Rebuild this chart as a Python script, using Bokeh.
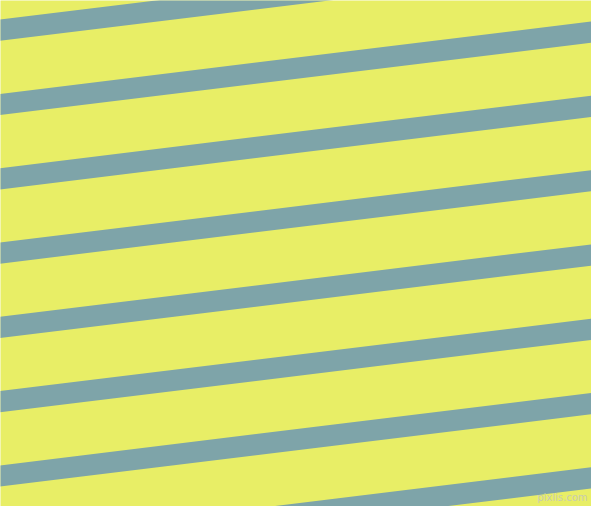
from bokeh.plotting import figure
from bokeh.models import Range1d
from bokeh.embed import file_html
from bokeh.resources import INLINE
from bokeh.core.properties import value

# Stripe data (image pixel coordinates of the reference, y measured downward)
stripe_top_at_left = [-46.3, 28.0, 102.3, 176.6, 250.9, 325.2, 399.5, 473.8, 548.1]
stripe_rise_across = 74.3      # vertical rise of each stripe across the full width
stripe_thickness = 21.2         # vertical thickness of each stripe
image_width = 607
watermark = "pixlis.com"

BG = "#e8ee66"
STRIPE = "#7ea4a9"

W, H = 591, 506
p = figure(width=W, height=H, output_backend="svg", toolbar_location=None,
           x_range=Range1d(8, 8 + W), y_range=Range1d(8 + H, 8),
           min_border=0, min_border_left=0, min_border_right=0,
           min_border_top=0, min_border_bottom=0)
p.background_fill_color = BG
p.border_fill_color = BG
p.outline_line_color = None
p.axis.visible = False
p.grid.visible = False

slope = stripe_rise_across / image_width
xs, ys = [], []
for c in stripe_top_at_left:
    x0, x1 = -10, image_width + 10
    t0 = c - slope * x0
    t1 = c - slope * x1
    xs.append([x0, x1, x1, x0])
    ys.append([t0, t1, t1 + stripe_thickness, t0 + stripe_thickness])

p.patches(xs, ys, fill_color=STRIPE, line_color=None)

p.text(x=[595], y=[510], text=[watermark], text_align="right",
       text_baseline="bottom", text_font=value("DejaVu Sans"),
       text_font_size="10px", text_color="#c9ccb0",
       text_alpha=1.0)

open("out.html", "w").write(file_html(p, INLINE))
